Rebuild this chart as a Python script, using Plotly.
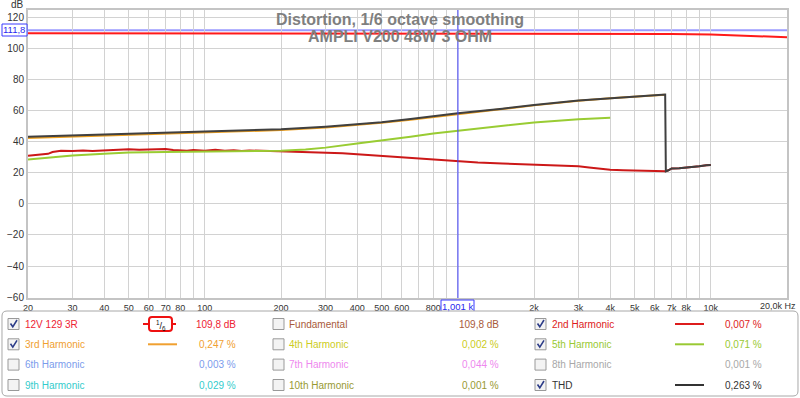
import plotly.graph_objects as go

# ---------------- data ----------------
fund_freq = [20, 100, 1000, 2000, 3000, 5000, 7000, 10000, 14000, 20000]
fund_db = [109.8, 109.8, 109.8, 109.8, 109.8, 109.6, 109.4, 109.0, 108.3, 107.3]

h2_freq = [20, 22, 24, 25, 27, 30, 33, 36, 40, 45, 50, 55, 60, 65, 70, 75, 80, 85, 90, 95,
           100, 110, 120, 130, 140, 150, 170, 200, 230, 260, 300, 350, 400, 500, 650, 800,
           1000, 1200, 1500, 1800, 2000, 2300, 2600, 3000, 3300, 3600, 4000, 4500, 5000,
           5500, 6000, 6640, 6800, 7000, 7500, 8000, 9000, 9600, 10000]
h2_db = [31.0, 31.4, 32.2, 33.4, 34.2, 34.0, 34.4, 34.1, 34.3, 34.6, 35.2, 34.8, 34.9, 35.0,
         35.3, 34.7, 34.5, 34.2, 34.6, 34.3, 34.2, 34.8, 34.2, 34.5, 34.0, 34.4, 34.1, 34.2,
         33.7, 33.5, 33.1, 32.6, 32.0, 30.9, 29.5, 28.4, 27.2, 26.6, 26.0, 25.6, 25.2, 25.0,
         24.6, 24.2, 23.4, 22.6, 21.9, 21.6, 21.5, 21.3, 21.2, 21.0, 21.6, 22.8, 22.9, 23.2,
         24.2, 24.8, 25.0]

h3_freq = [20, 25, 30, 40, 50, 60, 80, 100, 150, 200, 300, 400, 500, 650, 800, 1000, 1500,
           2000, 3000, 4000, 5000, 6000, 6600]
h3_db = [42.4, 42.9, 43.3, 43.9, 44.5, 44.9, 45.5, 46.0, 46.8, 47.5, 49.2, 50.8, 52.2, 54.2,
         56.0, 57.9, 61.0, 63.4, 66.4, 68.0, 69.0, 69.8, 70.2]

h5_freq = [20, 22, 25, 30, 40, 50, 70, 100, 150, 200, 250, 300, 400, 500, 650, 800, 1000,
           1500, 2000, 3000, 4000]
h5_db = [28.6, 29.2, 30.4, 31.2, 32.2, 33.0, 33.4, 33.7, 33.9, 34.2, 35.0, 36.2, 38.8, 40.7,
         43.2, 45.3, 47.1, 50.2, 52.4, 54.5, 55.4]

thd_freq = [20, 25, 30, 40, 50, 60, 80, 100, 150, 200, 300, 400, 500, 650, 800, 1000, 1500,
            2000, 3000, 4000, 5000, 6000, 6600, 6640, 6800, 7000, 7500, 8000, 9000, 9600, 10000]
thd_db = [43.2, 43.6, 44.0, 44.6, 45.1, 45.5, 46.1, 46.6, 47.3, 48.0, 49.7, 51.2, 52.6, 54.6,
          56.4, 58.3, 61.3, 63.7, 66.6, 68.2, 69.2, 70.0, 70.4, 21.0, 21.6, 22.8, 22.9, 23.2,
          24.2, 24.8, 25.0]

cursor_freq = 1001
cursor_db = 111.8

x_tickvals = [20, 30, 40, 50, 60, 70, 80, 90, 100, 200, 300, 400, 500, 600, 700, 800, 900,
              1000, 2000, 3000, 4000, 5000, 6000, 7000, 8000, 9000, 10000, 20000]
x_ticktext = ["20", "30", "40", "50", "60", "70", "80", "", "100", "200", "300", "400", "500",
              "600", "", "800", "", "", "2k", "3k", "4k", "5k", "6k", "7k", "8k", "", "10k", ""]
y_tickvals = [120, 100, 80, 60, 40, 20, 0, -20, -40, -60]

title_lines = ["Distortion, 1/6 octave smoothing", "AMPLI V200 48W 3 OHM"]

legend_names = ["12V 129 3R", "Fundamental", "2nd Harmonic",
                "3rd Harmonic", "4th Harmonic", "5th Harmonic",
                "6th Harmonic", "7th Harmonic", "8th Harmonic",
                "9th Harmonic", "10th Harmonic", "THD"]
legend_values = ["109,8 dB", "109,8 dB", "0,007 %",
                 "0,247 %", "0,002 %", "0,071 %",
                 "0,003 %", "0,044 %", "0,001 %",
                 "0,029 %", "0,001 %", "0,263 %"]
legend_checked = [True, False, True,
                  True, False, True,
                  False, False, False,
                  False, False, True]
legend_colors = ["#ee2233", "#a85a3a", "#dd1c1c",
                 "#f0a030", "#cccc22", "#99c933",
                 "#7b9cec", "#ee88ee", "#a8a8a8",
                 "#33cccc", "#999933", "#333333"]

# ---------------- geometry helpers ----------------
W, H = 800, 398
L, R, T, B = 28, 13, 10, 100
PW = W - L - R
PH = H - T - B
FONT = "Liberation Sans, Arial, sans-serif"


def px(x):
    return (x - L) / PW


def py(y):
    return (H - B - y) / PH


def rrect_path(x0, y0, x1, y1, r):
    pts = [
        ("M", [(x0 + r, y0)]),
        ("L", [(x1 - r, y0)]),
        ("Q", [(x1, y0), (x1, y0 + r)]),
        ("L", [(x1, y1 - r)]),
        ("Q", [(x1, y1), (x1 - r, y1)]),
        ("L", [(x0 + r, y1)]),
        ("Q", [(x0, y1), (x0, y1 - r)]),
        ("L", [(x0, y0 + r)]),
        ("Q", [(x0, y0), (x0 + r, y0)]),
    ]
    s = ""
    for cmd, ps in pts:
        s += cmd + " " + " ".join("%.5f,%.5f" % (px(a), py(b)) for a, b in ps) + " "
    return s + "Z"


y_range = [-60.6, 124.8]

fig = go.Figure()

fig.add_trace(go.Scatter(x=fund_freq, y=fund_db, mode="lines",
                         line=dict(color="#ff1a1a", width=2), hoverinfo="skip"))
fig.add_trace(go.Scatter(x=h2_freq, y=h2_db, mode="lines",
                         line=dict(color="#cc1818", width=2), hoverinfo="skip"))
fig.add_trace(go.Scatter(x=h5_freq, y=h5_db, mode="lines",
                         line=dict(color="#99cc33", width=2), hoverinfo="skip"))
fig.add_trace(go.Scatter(x=h3_freq, y=h3_db, mode="lines",
                         line=dict(color="#eea020", width=2), hoverinfo="skip"))
fig.add_trace(go.Scatter(x=thd_freq, y=thd_db, mode="lines",
                         line=dict(color="#404040", width=2), hoverinfo="skip"))
# cursor vertical line
fig.add_trace(go.Scatter(x=[cursor_freq, cursor_freq], y=y_range, mode="lines",
                         line=dict(color="#4040ff", width=1), hoverinfo="skip"))

shapes = []
annotations = []

# cursor horizontal line
shapes.append(dict(type="line", xref="paper", yref="y", x0=0, x1=1, y0=cursor_db, y1=cursor_db,
                   line=dict(color="#9a9aff", width=2), layer="below"))

# title
annotations.append(dict(text="<b>%s</b>" % title_lines[0], x=px(400), y=py(20), xref="paper",
                        yref="paper", showarrow=False, xanchor="center", yanchor="middle",
                        font=dict(family=FONT, size=16, color="#7f7f7f")))
annotations.append(dict(text="<b>%s</b>" % title_lines[1], x=px(400), y=py(36), xref="paper",
                        yref="paper", showarrow=False, xanchor="center", yanchor="middle",
                        font=dict(family=FONT, size=16, color="#7f7f7f")))

# dB unit label
annotations.append(dict(text="dB", x=px(17), y=py(5), xref="paper", yref="paper",
                        showarrow=False, xanchor="center", yanchor="middle",
                        font=dict(family=FONT, size=10, color="#333333")))
# Hz label at the end of x axis
annotations.append(dict(text="20,0k Hz", x=px(798), y=py(306), xref="paper", yref="paper",
                        showarrow=False, xanchor="right", yanchor="middle",
                        font=dict(family=FONT, size=9, color="#333333")))

# cursor value boxes
shapes.append(dict(type="rect", xref="paper", yref="paper", x0=px(2), x1=px(27),
                   y0=py(24), y1=py(36), fillcolor="white", line=dict(color="#3b3bff", width=1)))
annotations.append(dict(text="111,8", x=px(14.5), y=py(30), xref="paper", yref="paper",
                        showarrow=False, xanchor="center", yanchor="middle",
                        font=dict(family=FONT, size=9.5, color="#2a2aee")))
shapes.append(dict(type="rect", xref="paper", yref="paper", x0=px(441), x1=px(474),
                   y0=py(300), y1=py(312), fillcolor="white", line=dict(color="#3b3bff", width=1)))
annotations.append(dict(text="1,001 k", x=px(457.5), y=py(306), xref="paper", yref="paper",
                        showarrow=False, xanchor="center", yanchor="middle",
                        font=dict(family=FONT, size=9.5, color="#2a2aee")))

# legend panel
shapes.append(dict(type="path", xref="paper", yref="paper", path=rrect_path(2, 311, 798, 396, 5),
                   line=dict(color="#a8a8a8", width=1), fillcolor="white"))

row_y = [324, 344.3, 364.6, 385]
col_box = [8, 273, 535]
col_label = [24, 288, 551]
col_sample = [(148, 177), (410, 440), (675, 704)]
col_value = [237, 500, 763]

for i, name in enumerate(legend_names):
    r, c = divmod(i, 3)
    yc = row_y[r]
    bx = col_box[c]
    shapes.append(dict(type="rect", xref="paper", yref="paper", x0=px(bx), x1=px(bx + 11),
                       y0=py(yc - 5.5), y1=py(yc + 5.5), fillcolor="#f3f3f3",
                       line=dict(color="#999999", width=1)))
    if legend_checked[i]:
        path = "M %.5f,%.5f L %.5f,%.5f L %.5f,%.5f" % (
            px(bx + 2.5), py(yc - 0.5), px(bx + 4.8), py(yc + 2.8), px(bx + 9), py(yc - 4))
        shapes.append(dict(type="path", xref="paper", yref="paper", path=path,
                           line=dict(color="#2c3c88", width=1.6)))
        sx0, sx1 = col_sample[c]
        if i == 0:
            shapes.append(dict(type="line", xref="paper", yref="paper", x0=px(143), x1=px(176),
                               y0=py(yc), y1=py(yc), line=dict(color="#ee1111", width=2)))
            shapes.append(dict(type="path", xref="paper", yref="paper",
                               path=rrect_path(149, yc - 7, 172, yc + 7, 3),
                               fillcolor="white", line=dict(color="#ee1111", width=2)))
            annotations.append(dict(text="<sup>1</sup>/<sub>6</sub>", x=px(160.5), y=py(yc + 1),
                                    xref="paper", yref="paper", showarrow=False,
                                    xanchor="center", yanchor="middle",
                                    font=dict(family=FONT, size=9, color="#111111")))
        else:
            shapes.append(dict(type="line", xref="paper", yref="paper", x0=px(sx0), x1=px(sx1),
                               y0=py(yc), y1=py(yc),
                               line=dict(color=legend_colors[i], width=2)))
    annotations.append(dict(text=name, x=px(col_label[c] - 1), y=py(yc), xref="paper",
                            yref="paper", showarrow=False, xanchor="left", yanchor="middle",
                            font=dict(family=FONT, size=10, color=legend_colors[i])))
    annotations.append(dict(text=legend_values[i], x=px(col_value[c] + 1), y=py(yc),
                            xref="paper", yref="paper", showarrow=False, xanchor="right",
                            yanchor="middle",
                            font=dict(family=FONT, size=10, color=legend_colors[i])))

fig.update_layout(
    width=W, height=H,
    margin=dict(l=L, r=R, t=T, b=B, pad=0, autoexpand=False),
    paper_bgcolor="white", plot_bgcolor="white",
    showlegend=False,
    shapes=shapes, annotations=annotations,
    font=dict(family=FONT, size=10, color="#333333"),
    xaxis=dict(type="log", range=[1.30103, 4.30103], tickmode="array", tickvals=x_tickvals,
               ticktext=x_ticktext, showgrid=True, gridcolor="#d2d2d2", gridwidth=1,
               showline=True, mirror=True, linecolor="#c4c4c4", linewidth=2, ticks="",
               zeroline=False, tickfont=dict(family=FONT, size=9, color="#333333"),
               fixedrange=True, automargin=False),
    yaxis=dict(range=y_range, tickmode="array", tickvals=y_tickvals, showgrid=True,
               gridcolor="#d2d2d2", gridwidth=1, showline=True, mirror=True,
               linecolor="#c4c4c4", linewidth=2, ticks="", zeroline=False,
               tickfont=dict(family=FONT, size=10, color="#333333"), fixedrange=True,
               automargin=False),
)

fig.write_html("out.html", config={"displayModeBar": False},
               post_script="document.body.style.margin='0px';document.body.style.overflow='hidden';")
